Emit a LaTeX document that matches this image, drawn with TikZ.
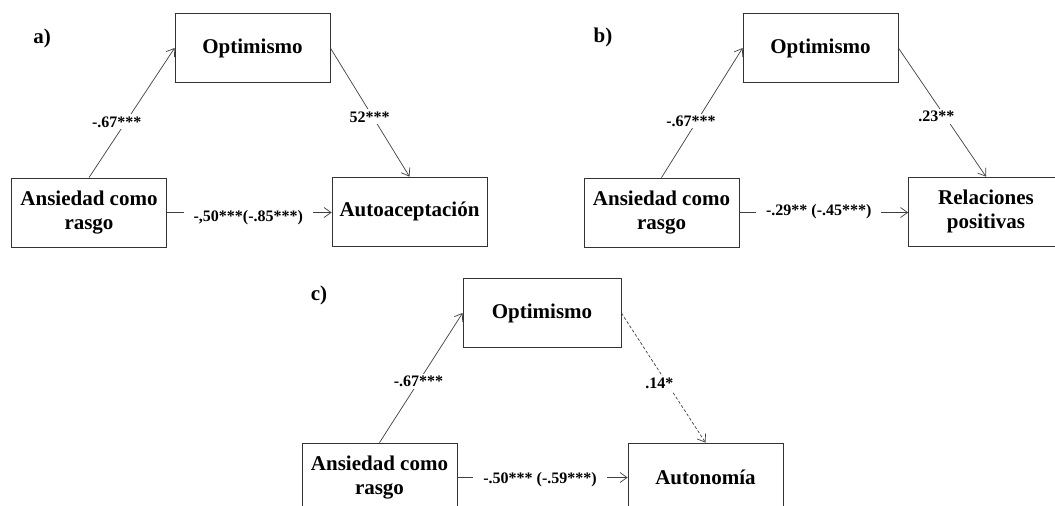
\documentclass[tikz,border=0pt]{standalone}
\usepackage{fontspec}
\setmainfont{Liberation Serif}
\usetikzlibrary{arrows.meta}
\begin{document}
\begin{tikzpicture}[x=1pt,y=-1pt,
  box/.style={draw=black!80, line width=0.8pt, minimum width=155pt, minimum height=69pt, inner sep=0pt, align=center, font=\fontsize{21}{24}\selectfont\bfseries},
  lab/.style={fill=white, inner sep=2pt, font=\fontsize{16}{18}\selectfont\bfseries},
  hlab/.style={lab, inner xsep=10pt},
  conn/.style={draw=black!75, line width=0.7pt, -{Straight Barb[length=7pt,width=10pt]}},
  dconn/.style={conn, dash pattern=on 3pt off 2pt},
  panel/.style={font=\fontsize{21}{24}\selectfont\bfseries, inner sep=0pt}]
\clip (0,0) rectangle (1055,506);
\fill[white] (0,0) rectangle (1055,506);

% panel a
\node[panel] (pa) at (42,38) {a)};
\node[box] (O1) at (252.5,48) {Optimismo};
\node[box] (A1) at (89,212.5) {Ansiedad como\\rasgo};
\node[box] (T1) at (409.5,211.5) {Autoaceptación};
\draw[conn] (A1.north) -- node[lab, pos=0.43, xshift=-9] {-.67***} (O1.west);
\draw[conn] (O1.east) -- node[lab, pos=0.535, xshift=-3] {52***} (T1.north);
\draw[conn] (A1.east) -- node[hlab, pos=0.5, xshift=-1, yshift=-5] {-,50***(-.85***)} (A1.east -| T1.west);

% panel b
\node[panel] (pb) at (603,37) {b)};
\node[box] (O2) at (820.5,48) {Optimismo};
\node[box] (A2) at (661.5,212.5) {Ansiedad como\\rasgo};
\node[box] (T2) at (986,211.5) {Relaciones\\positivas};
\draw[conn] (A2.north) -- node[lab, pos=0.437, xshift=-6] {-.67***} (O2.west);
\draw[conn] (O2.east) -- node[lab, pos=0.535, xshift=-9] {.23**} (T2.north);
\draw[conn] (A2.east) -- node[hlab, pos=0.5, xshift=-5, yshift=1] {-.29** (-.45***)} (A2.east -| T2.west);

% panel c
\node[panel] (pc) at (319,295) {c)};
\node[box, minimum width=158pt] (O3) at (542,313) {Optimismo};
\node[box] (A3) at (379.5,477.5) {Ansiedad como\\rasgo};
\node[box] (T3) at (705.5,477.5) {Autonomía};
\draw[conn] (A3.north) -- node[lab, pos=0.47] {-.67***} (O3.west);
\draw[dconn] (O3.east) -- node[lab, pos=0.546, xshift=-8] {.14*} (T3.north);
\draw[conn] (A3.east) -- node[hlab, pos=0.5, xshift=-2.5, yshift=-2] {-.50*** (-.59***)} (A3.east -| T3.west);
\end{tikzpicture}
\end{document}
